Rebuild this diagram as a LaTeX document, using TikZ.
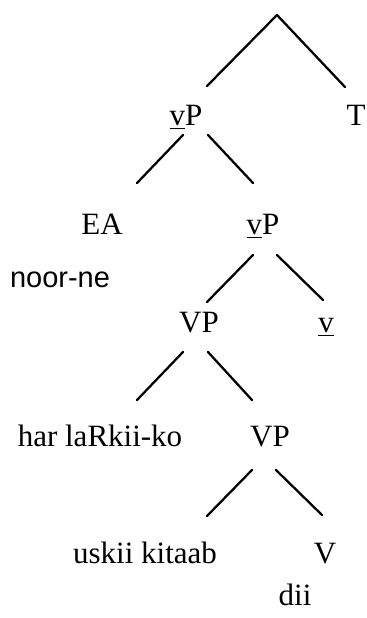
\documentclass[tikz,border=0pt]{standalone}
\usepackage{fontspec}
\setmainfont{Liberation Serif}
\newfontfamily\glossfont{Liberation Sans}

\tikzset{
	cat/.style={anchor=base, inner sep=0pt, font=\fontsize{15.5}{18}\selectfont},
	gloss/.style={anchor=base, inner sep=0pt, font=\glossfont\fontsize{14.5}{17}\selectfont},
	branch/.style={line width=0.4mm, line cap=round},
}

\begin{document}
\begin{tikzpicture}[x=0.5pt, y=-0.5pt]
		%%%%% START %%%%%
		\useasboundingbox (0, 0) rectangle (366, 618);
		
		\coordinate (top) at (277, 15);
		\node[cat] (vPa) at (186, 125) {\underline{v}P};
		\node[cat] (T) at (356, 125) {T};
		
		\node[cat] (EA) at (102, 234) {EA};
		\node[gloss] (noor) at (60, 287) {noor-ne};
		\node[cat] (vPb) at (263, 234) {\underline{v}P};
		
		\node[cat] (VPa) at (199, 332) {VP};
		\node[cat] (v) at (326, 332) {\underline{v}};
		
		\node[cat] (har) at (100, 446) {har laRkii-ko};
		\node[cat] (VPb) at (270, 446) {VP};
		
		\node[cat] (uskii) at (145, 563) {uskii kitaab};
		\node[cat] (V) at (325, 563) {V};
		\node[cat] (dii) at (295, 605) {dii};
		
		% branches
		\draw[branch] (top) -- ([shift={(21, -39)}]vPa.base);
		\draw[branch] (top) -- ([shift={(-11, -38)}]T.base);
		
		\draw[branch] ([shift={(-3, 10)}]vPa.base) -- ([shift={(35, -51)}]EA.base);
		\draw[branch] ([shift={(22, 10)}]vPa.base) -- ([shift={(-10, -51)}]vPb.base);
		
		\draw[branch] ([shift={(-10, 21)}]vPb.base) -- ([shift={(8, -30)}]VPa.base);
		\draw[branch] ([shift={(14, 21)}]vPb.base) -- ([shift={(-3, -32)}]v.base);
		
		\draw[branch] ([shift={(-16, 20)}]VPa.base) -- ([shift={(37, -46)}]har.base);
		\draw[branch] ([shift={(9, 20)}]VPa.base) -- ([shift={(-18, -46)}]VPb.base);
		
		\draw[branch] ([shift={(-18, 24)}]VPb.base) -- ([shift={(62, -47)}]uskii.base);
		\draw[branch] ([shift={(6, 24)}]VPb.base) -- ([shift={(-3, -48)}]V.base);
		%%%%% END %%%%%
	\end{tikzpicture}
\end{document}
